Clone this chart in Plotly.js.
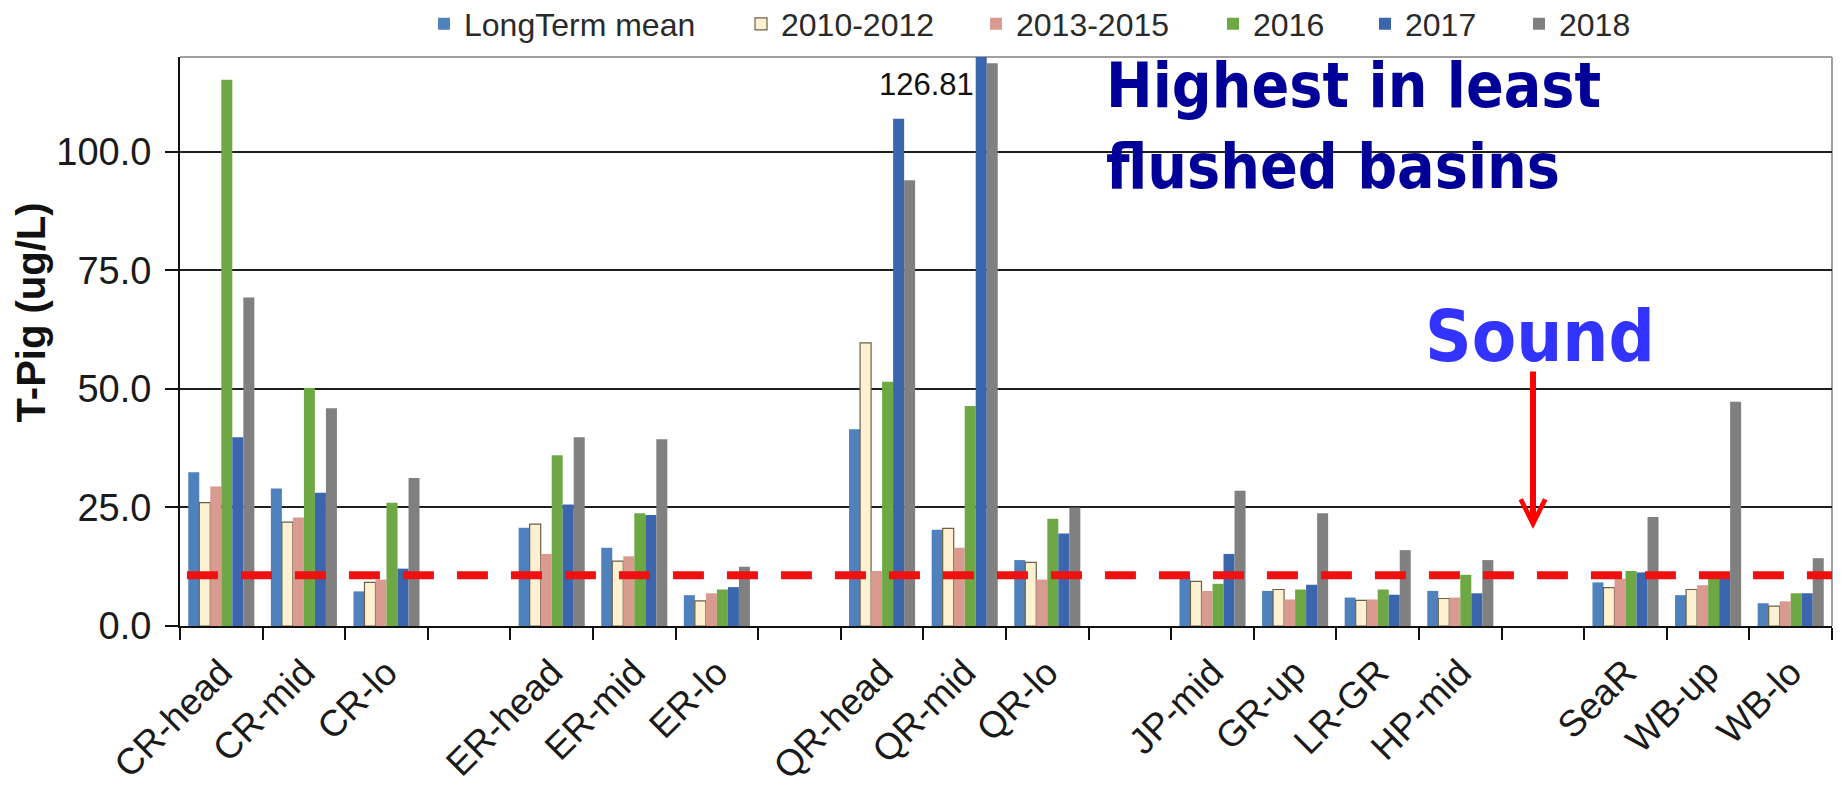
<!DOCTYPE html>
<html>
<head>
<meta charset="utf-8">
<script src="https://cdn.plot.ly/plotly-3.0.1.min.js"></script>
<style>
  html, body { margin: 0; padding: 0; background: #ffffff; }
  #chart { width: 1841px; height: 790px; }
</style>
</head>
<body>
<div id="chart"></div>
<script>
// ---- Data ----
const categories = ["CR-head", "CR-mid", "CR-lo", " ",
                    "ER-head", "ER-mid", "ER-lo", "  ",
                    "QR-head", "QR-mid", "QR-lo", "   ",
                    "JP-mid", "GR-up", "LR-GR", "HP-mid", "    ",
                    "SeaR", "WB-up", "WB-lo"];

const seriesNames = ["LongTerm mean", "2010-2012", "2013-2015", "2016", "2017", "2018"];

const longTermMean = [32.4, 29.0, 7.3, null, 20.7, 16.5, 6.5, null, 41.5, 20.3, 13.9, null, 10.0, 7.4, 6.0, 7.4, null, 9.2, 6.5, 4.8];
const y2010_2012   = [26.0, 21.9, 9.2, null, 21.5, 13.7, 5.3, null, 59.7, 20.6, 13.4, null, 9.4, 7.7, 5.4, 5.8, null, 8.1, 7.7, 4.2];
const y2013_2015   = [29.4, 22.9, 9.8, null, 15.2, 14.7, 6.9, null, 11.6, 16.5, 9.8, null, 7.4, 5.6, 5.6, 6.0, null, 10.0, 8.6, 5.2];
const y2016        = [115.2, 50.2, 26.0, null, 36.0, 23.8, 7.7, null, 51.5, 46.4, 22.6, null, 8.9, 7.7, 7.7, 10.8, null, 11.6, 10.2, 6.9];
const y2017        = [39.8, 28.1, 12.1, null, 25.6, 23.4, 8.2, null, 107.0, 126.81, 19.5, null, 15.2, 8.7, 6.6, 6.9, null, 11.3, 11.0, 6.9];
const y2018        = [69.3, 45.9, 31.2, null, 39.8, 39.4, 12.5, null, 94.0, 118.7, 25.0, null, 28.5, 23.8, 16.0, 13.9, null, 23.0, 47.3, 14.3];

const soundLevel = 10.7;            // red dashed reference line
const labelledCategory = "QR-mid";  // bar whose value is printed (clipped 2017 bar)
const labelledValue = y2017[categories.indexOf(labelledCategory)];

const yTickVals = [0, 25, 50, 75, 100];
const yTitle = "T-Pig (ug/L)";
const noteHighest = "Highest in least<br>flushed basins";
const noteSound = "Sound";

// ---- Styles ----
const colors = ["#4f81bd", "#fdf1d2", "#d99a90", "#6ea845", "#3b66ae", "#808080"];
const lineColors = ["#4f81bd", "#6b604a", "#d99a90", "#6ea845", "#3b66ae", "#808080"];
const lineWidths = [0, 1.2, 0, 0, 0, 0];
const legendLeftPx = [438, 755, 990, 1227, 1379, 1533];

const allValues = [longTermMean, y2010_2012, y2013_2015, y2016, y2017, y2018];
const W = 1841, H = 790;
const TXT = "Liberation Sans, Arial, sans-serif";

const traces = allValues.map((vals, i) => ({
  type: "bar",
  name: seriesNames[i],
  x: categories,
  y: vals,
  marker: { color: colors[i], line: { color: lineColors[i], width: lineWidths[i] } },
  legend: i === 0 ? "legend" : "legend" + (i + 1),
  hoverinfo: "x+y+name"
}));

const layout = {
  width: W, height: H,
  autosize: false,
  paper_bgcolor: "#ffffff",
  plot_bgcolor: "#ffffff",
  margin: { l: 180, r: 9, t: 57, b: 164, pad: 0 },
  barmode: "group",
  bargap: 0.2,
  bargroupgap: 0,
  showlegend: true,
  font: { family: TXT, color: "#1a1a1a" },
  xaxis: {
    type: "category",
    categoryorder: "array",
    categoryarray: categories,
    tickson: "boundaries",
    ticks: "outside",
    ticklen: 12,
    tickwidth: 2,
    tickcolor: "#111111",
    tickangle: -45,
    tickfont: { family: TXT, size: 37, color: "#1a1a1a" },
    ticklabelstandoff: 8,
    showline: true,
    linecolor: "#111111",
    linewidth: 2,
    showgrid: false,
    zeroline: false,
    automargin: false,
    fixedrange: true
  },
  yaxis: {
    range: [0, 120],
    tickvals: yTickVals,
    tickformat: ".1f",
    ticks: "outside",
    ticklen: 13,
    tickwidth: 2,
    tickcolor: "#111111",
    tickfont: { family: TXT, size: 38, color: "#1a1a1a" },
    ticklabelstandoff: 6,
    showline: true,
    linecolor: "#111111",
    linewidth: 2,
    showgrid: true,
    gridcolor: "#1f1f1f",
    gridwidth: 2,
    zeroline: false,
    automargin: false,
    fixedrange: true
  },
  shapes: [
    // gray frame on top and right
    { type: "line", xref: "paper", yref: "paper", x0: 0, x1: 1, y0: 1, y1: 1,
      line: { color: "#a0a0a0", width: 2 }, layer: "below" },
    { type: "line", xref: "paper", yref: "paper", x0: 1, x1: 1, y0: 0, y1: 1,
      line: { color: "#a0a0a0", width: 2 }, layer: "below" },
    // Sound reference level
    { type: "line", xref: "paper", yref: "y", x0: 0.0042, x1: 1, y0: soundLevel, y1: soundLevel,
      line: { color: "#ee1111", width: 8, dash: "31px,23px" }, layer: "above" }
  ],
  annotations: [
    { xref: "paper", yref: "paper", x: -0.0905, y: 0.552, text: yTitle, textangle: -90,
      showarrow: false, xanchor: "center", yanchor: "middle",
      font: { family: TXT, size: 40, color: "#111111", weight: "bold" } },
    { xref: "x", yref: "y", x: labelledCategory, y: 114.2, xshift: 11,
      text: labelledValue.toFixed(2), showarrow: false, xanchor: "right", yanchor: "middle",
      font: { family: TXT, size: 31, color: "#111111" } },
    { xref: "paper", yref: "paper", x: 0.5593, y: 0.8787, text: noteHighest, align: "left",
      showarrow: false, xanchor: "left", yanchor: "middle",
      font: { family: "DejaVu Sans Condensed, DejaVu Sans, sans-serif", size: 62, color: "#000099", weight: "bold" } },
    { xref: "paper", yref: "paper", x: 0.8232, y: 0.5097, text: noteSound,
      showarrow: false, xanchor: "center", yanchor: "middle",
      font: { family: "DejaVu Sans Condensed, DejaVu Sans, sans-serif", size: 72, color: "#3333ff", weight: "bold" } },
    { xref: "paper", yref: "paper", x: 0.819, y: 0.1705, ax: 0, ay: -159, axref: "pixel", ayref: "pixel",
      text: "", showarrow: true, arrowhead: 5, arrowsize: 0.8, arrowwidth: 6, arrowcolor: "#ff0000",
      standoff: 0, startstandoff: 0 }
  ]
};

// one single-item legend per series, placed like the reference's legend row
legendLeftPx.forEach((px, i) => {
  const key = i === 0 ? "legend" : "legend" + (i + 1);
  layout[key] = {
    orientation: "h",
    xref: "container", yref: "container",
    x: (px - 14) / W, y: 1 - 24 / H,
    xanchor: "left", yanchor: "middle",
    bgcolor: "rgba(0,0,0,0)",
    borderwidth: 0,
    font: { family: TXT, size: 32, color: "#2a2a2a" }
  };
});

Plotly.newPlot("chart", traces, layout, { displayModeBar: false, staticPlot: true });
</script>
</body>
</html>
